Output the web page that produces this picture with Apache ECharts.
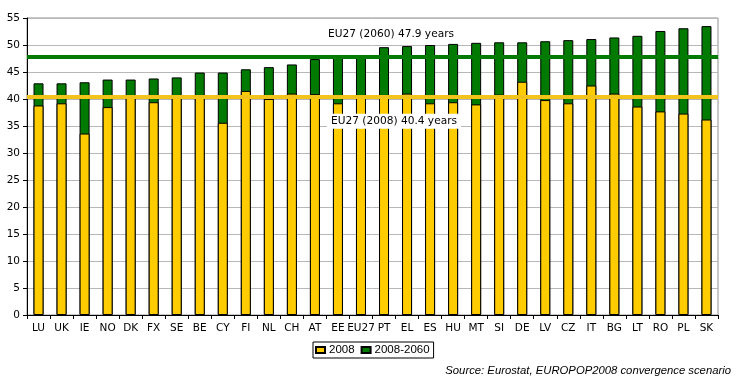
<!DOCTYPE html>
<html><head><meta charset="utf-8">
<script src="https://cdn.jsdelivr.net/npm/echarts@6/dist/echarts.min.js"></script>
<style>html,body{margin:0;padding:0;background:#fff}#c{width:748px;height:383px}</style>
</head><body><div id="c"></div>
<script>
const categories = ['LU','UK','IE','NO','DK','FX','SE','BE','CY','FI','NL','CH','AT','EE','EU27','PT','EL','ES','HU','MT','SI','DE','LV','CZ','IT','BG','LT','RO','PL','SK'];
const values2008 = [38.8,39.2,33.6,38.5,40.5,39.4,40.7,40.7,35.6,41.5,40.0,41.0,40.9,39.2,40.4,40.4,41.0,39.2,39.4,39.0,40.8,43.2,39.8,39.2,42.5,41.0,38.6,37.7,37.3,36.2];
const values2060 = [42.9,42.9,43.1,43.6,43.6,43.8,44.0,44.9,44.9,45.5,45.9,46.4,47.4,48.0,47.9,49.6,49.8,50.0,50.2,50.4,50.5,50.5,50.7,50.9,51.1,51.4,51.7,52.6,53.1,53.5];
const eu2008 = 40.4;
const eu2060 = 47.9;
const yMin = 0, yMax = 55, yStep = 5;
const seriesNames = ['2008', '2008-2060'];
const sourceText = 'Source: Eurostat, EUROPOP2008 convergence scenario';

const chart = echarts.init(document.getElementById('c'), null, {renderer: 'canvas'});
const font = 'DejaVu Sans';
chart.setOption({
  animation: false,
  backgroundColor: '#fff',
  grid: {left: 27, right: 30, top: 18, bottom: 68, show: true, borderColor: '#909090', borderWidth: 1},
  legend: {
    data: seriesNames,
    left: 313, top: 342,
    itemWidth: 9, itemHeight: 6, itemGap: 6,
    padding: [2, 4, 2, 2],
    borderColor: '#000', borderWidth: 1,
    icon: 'rect',
    textStyle: {fontFamily: 'Liberation Sans', fontSize: 11.5, color: '#000', padding: [0, 0, 0, -1]}
  },
  graphic: [{
    type: 'text', right: 17, top: 365,
    style: {text: sourceText, fontFamily: 'Liberation Sans', fontStyle: 'italic', fontSize: 11.3, fill: '#000'}
  }],
  xAxis: {
    type: 'category', data: categories,
    axisLine: {lineStyle: {color: '#000'}},
    axisTick: {show: true, alignWithLabel: false, length: 4, lineStyle: {color: '#000'}},
    axisLabel: {interval: 0, fontFamily: font, fontSize: 10.5, color: '#000', margin: 8}
  },
  yAxis: {
    type: 'value', min: yMin, max: yMax, interval: yStep,
    axisLine: {show: true, lineStyle: {color: '#000'}},
    axisTick: {show: true, length: 4, lineStyle: {color: '#000'}},
    axisLabel: {fontFamily: font, fontSize: 10.5, color: '#000', margin: 7},
    splitLine: {lineStyle: {color: '#b8b8b8'}}
  },
  series: [
    {
      name: seriesNames[1], type: 'bar', data: values2060, barWidth: 10, barGap: '-100%', z: 2,
      itemStyle: {color: '#007A00', borderColor: '#000', borderWidth: 1}
    },
    {
      name: seriesNames[0], type: 'bar', data: values2008, barWidth: 10, barGap: '-100%', z: 3,
      itemStyle: {color: '#FFCC00', borderColor: '#000', borderWidth: 1}
    },
    {
      name: 'ref', type: 'line', data: [], z: 5, silent: true,
      markLine: {
        symbol: ['none', 'none'], silent: true, animation: false,
        label: {show: false},
        data: [
          {yAxis: eu2008, lineStyle: {color: '#F2C31A', width: 4, type: 'solid'}},
          {yAxis: eu2060, lineStyle: {color: '#007A00', width: 4, type: 'solid'}}
        ]
      },
      markPoint: {
        symbol: 'rect', symbolSize: 0, silent: true, animation: false,
        data: [
          {coord: ['PT', 52.0], label: {show: true, position: 'inside', offset: [7, 0], formatter: 'EU27 (2060) ' + eu2060 + ' years', fontFamily: font, fontSize: 10.6, color: '#000', backgroundColor: '#fff', padding: [1, 3]}},
          {coord: ['PT', 35.9], label: {show: true, position: 'inside', offset: [10, 0], formatter: 'EU27 (2008) ' + eu2008 + ' years', fontFamily: font, fontSize: 10.6, color: '#000', backgroundColor: '#fff', padding: [2, 4]}}
        ]
      }
    }
  ]
});
</script></body></html>
